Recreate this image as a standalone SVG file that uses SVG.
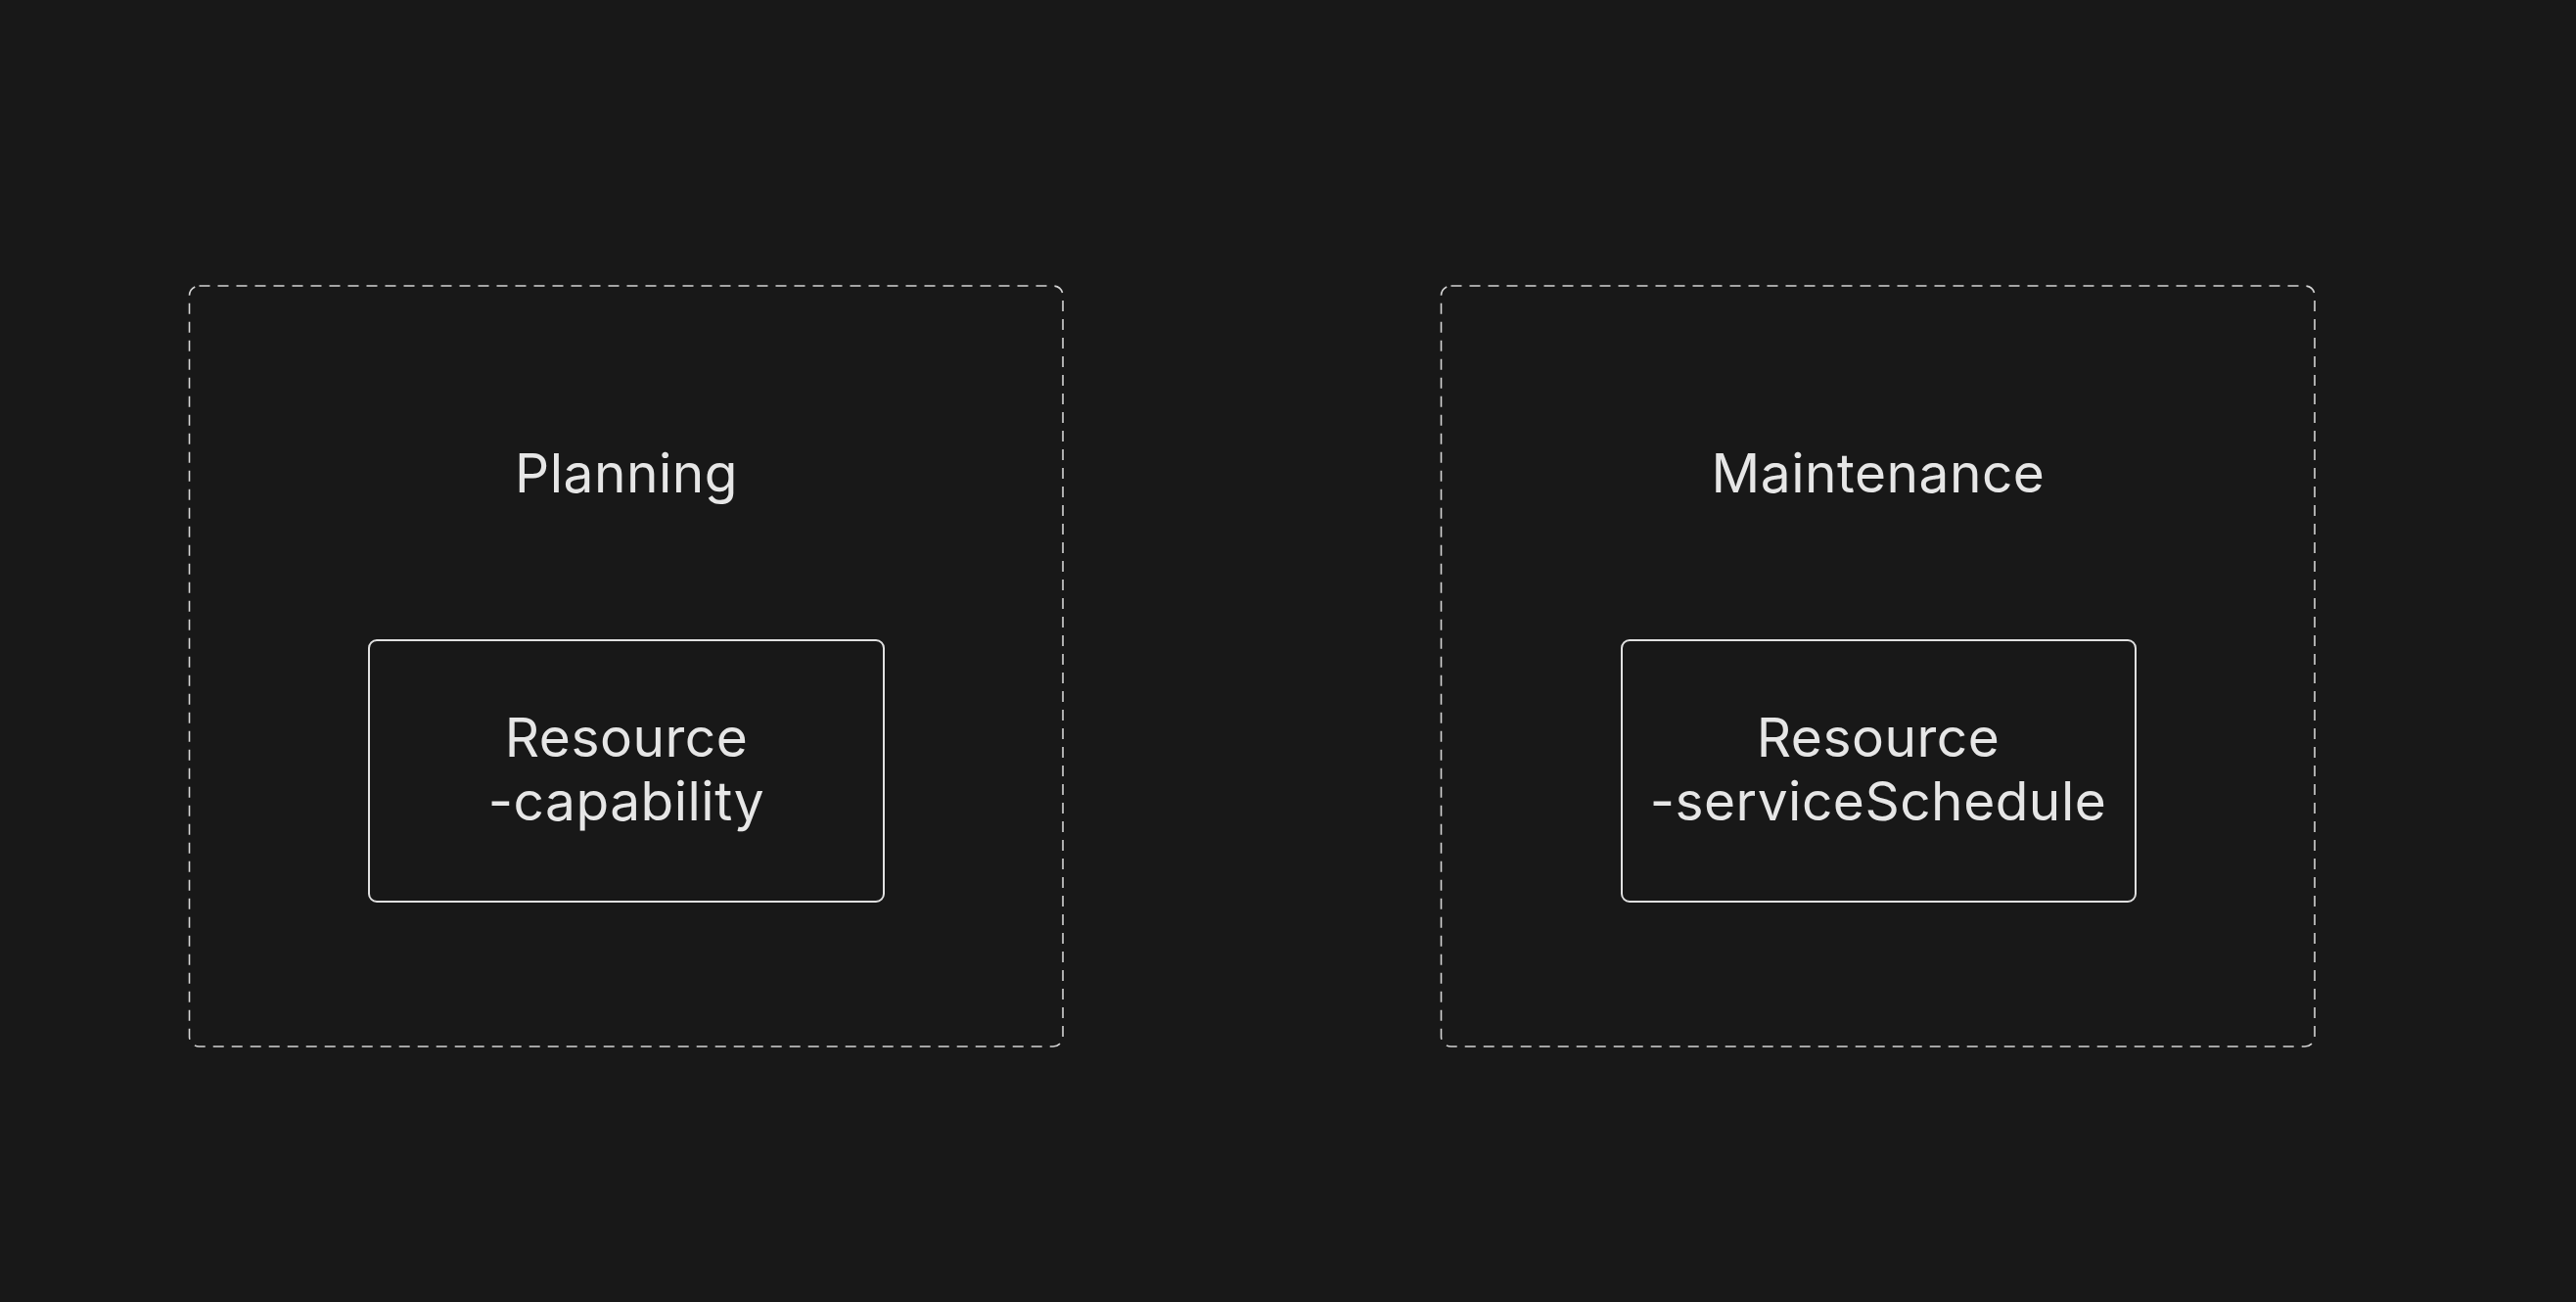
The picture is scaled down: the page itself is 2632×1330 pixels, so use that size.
<svg xmlns="http://www.w3.org/2000/svg" width="2632" height="1330" viewBox="0 0 2632 1330">
<style>
.bg{fill:#181818}
.group{fill:none;stroke:#d4d4d4;stroke-width:1.6;stroke-dasharray:11 8}
.node{fill:#181818;stroke:#e0e0e0;stroke-width:2}
.t{font-family:Inter,"Noto Sans","Liberation Sans",sans-serif;font-size:55px;letter-spacing:0.5px;fill:#e6e6e6;text-anchor:middle}
</style>
<rect class="bg" x="0" y="0" width="2632" height="1330"/>
<g id="planning">
<rect class="group" x="193.5" y="292" width="892.5" height="777" rx="10"/>
<text class="t" x="640" y="503">Planning</text>
</g>
<g id="resource-capability">
<rect class="node" x="377" y="654" width="526" height="267" rx="8"/>
<text class="t" x="640" y="773">Resource</text>
<text class="t" x="640" y="838">-capability</text>
</g>
<g id="maintenance">
<rect class="group" x="1472.5" y="292" width="892.5" height="777" rx="10"/>
<text class="t" x="1919" y="503">Maintenance</text>
</g>
<g id="resource-serviceSchedule">
<rect class="node" x="1657" y="654" width="525" height="267" rx="8"/>
<text class="t" x="1919" y="773">Resource</text>
<text class="t" x="1919" y="838">-serviceSchedule</text>
</g>
<g id="connectors"></g>
</svg>
